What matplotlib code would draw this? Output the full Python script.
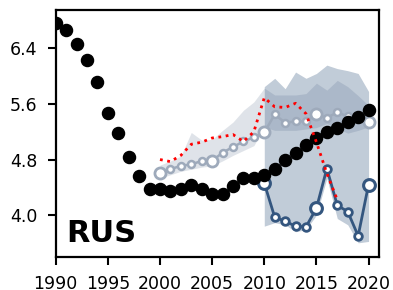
import numpy as np
import matplotlib
matplotlib.use('Agg')
from matplotlib import pyplot as plt

# observed series (black dots)
obs_years = np.arange(1990, 2021)
obs_vals = [6.77, 6.66, 6.47, 6.23, 5.92, 5.47, 5.18, 4.83, 4.56, 4.38,
            4.38, 4.35, 4.38, 4.43, 4.37, 4.31, 4.30, 4.42, 4.53, 4.54,
            4.57, 4.66, 4.79, 4.89, 5.01, 5.11, 5.19, 5.26, 5.34, 5.41, 5.51]

# light projection series 2000-2020
lt_years = np.arange(2000, 2021)
lt_vals = [4.60, 4.66, 4.71, 4.73, 4.78, 4.78, 4.90, 4.98, 5.06, 5.12,
           5.19, 5.45, 5.33, 5.35, 5.35, 5.45, 5.40, 5.48, 5.42, 5.38, 5.34]
lt_low = [4.53, 4.58, 4.63, 4.66, 4.69, 4.71, 4.78, 4.86, 4.93, 5.00,
          5.27, 5.22, 5.22, 5.22, 5.24, 5.26, 5.32, 5.25, 5.18, 5.22, 5.27]
lt_high = [4.72, 4.78, 4.85, 5.19, 5.08, 5.09, 5.22, 5.34, 5.51, 5.63,
           5.83, 5.73, 5.73, 5.73, 5.75, 5.90, 5.80, 5.94, 5.85, 5.72, 5.58]

# dark projection series 2010-2020
dk_years = np.arange(2010, 2021)
dk_vals = [4.46, 3.97, 3.91, 3.84, 3.83, 4.10, 4.67, 4.14, 4.05, 3.70, 4.44]
dk_low = [3.84, 3.89, 3.86, 3.76, 3.79, 4.00, 4.53, 3.95, 3.86, 3.60, 3.62]
dk_high = [5.85, 5.97, 5.82, 6.06, 5.97, 6.04, 6.16, 6.11, 6.08, 6.04, 5.78]

# red dotted series
red_years = np.arange(2000, 2018)
red_vals = [4.80, 4.77, 4.86, 5.02, 5.05, 5.11, 5.13, 5.16, 5.06, 5.20,
            5.69, 5.56, 5.55, 5.61, 5.46, 5.05, 4.60, 4.22]

light_c = '#9eaabb'
dark_c = '#34567f'

fig = plt.figure(figsize=(3.93, 2.9), dpi=100)
ax = fig.add_axes([0.1417, 0.1148, 0.8227, 0.8497])

ax.fill_between(lt_years, lt_low, lt_high, color=light_c, alpha=0.32, lw=0, zorder=1)
ax.fill_between(dk_years, dk_low, dk_high, color=dark_c, alpha=0.3, lw=0, zorder=1)

lt_big = lt_years % 5 == 0
ax.plot(lt_years, lt_vals, color=light_c, lw=1.8, zorder=2)
ax.plot(lt_years[~lt_big], np.array(lt_vals)[~lt_big], 'o', ms=5, mfc='white',
        mec=light_c, mew=1.8, zorder=2)
ax.plot(lt_years[lt_big], np.array(lt_vals)[lt_big], 'o', ms=8, mfc='white',
        mec=light_c, mew=2, zorder=2)

dk_big = dk_years % 5 == 0
ax.plot(dk_years, dk_vals, color=dark_c, lw=2, zorder=3)
ax.plot(dk_years[~dk_big], np.array(dk_vals)[~dk_big], 'o', ms=5.5, mfc='white',
        mec=dark_c, mew=2, zorder=3)
ax.plot(dk_years[dk_big], np.array(dk_vals)[dk_big], 'o', ms=8.5, mfc='white',
        mec=dark_c, mew=2.2, zorder=3)

ax.plot(obs_years, obs_vals, 'o', color='black', ms=8.7, zorder=4)

ax.plot(red_years, red_vals, ':', color='red', lw=2, zorder=5)

ax.text(0.034, 0.061, 'RUS', transform=ax.transAxes, fontsize=22,
        fontweight='bold', va='baseline', ha='left')

ax.set_xlim(1990, 2021)
ax.set_ylim(3.4, 6.95)
ax.set_xticks([1990, 1995, 2000, 2005, 2010, 2015, 2020])
ax.set_yticks([4.0, 4.8, 5.6, 6.4])
ax.set_yticklabels(['4.0', '4.8', '5.6', '6.4'])
ax.tick_params(labelsize=12.5, width=1.5, length=6, pad=7)
for s in ax.spines.values():
    s.set_linewidth(1.6)

plt.savefig('out.png', dpi=100)
